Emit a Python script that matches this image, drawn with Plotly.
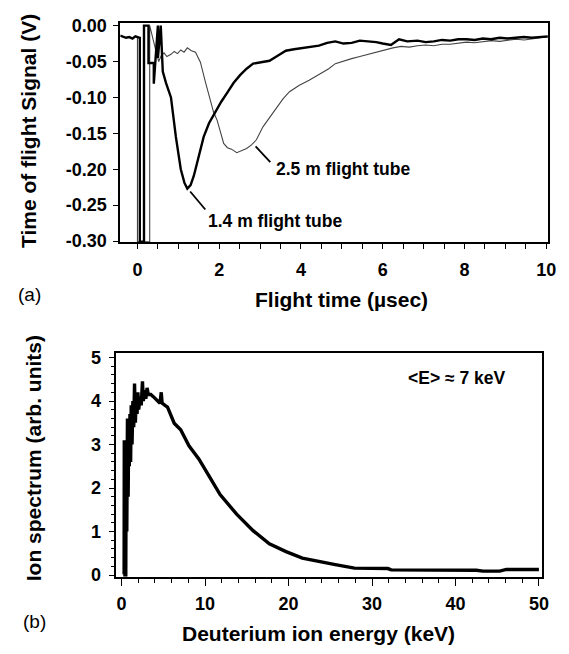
import plotly.graph_objects as go

# ---------------- Panel (a): time-of-flight signals ----------------
t_14 = [-0.42, -0.35, -0.28, -0.2, -0.12, -0.05, 0.0, 0.03, 0.058, 0.058, 0.16, 0.16, 0.27, 0.27, 0.40, 0.40,
        0.50, 0.50, 0.57, 0.62, 0.70, 0.82, 0.94, 1.06, 1.15, 1.22, 1.30, 1.38, 1.50, 1.62, 1.75, 1.91,
        2.05, 2.19, 2.35, 2.51, 2.67, 2.83, 3.03, 3.23, 3.43, 3.63, 3.83, 4.04, 4.24, 4.44, 4.64, 4.84,
        5.04, 5.24, 5.44, 5.64, 5.84, 6.0, 6.2, 6.4, 6.6, 6.85, 7.05, 7.25, 7.45, 7.65, 7.85, 8.05,
        8.25, 8.45, 8.65, 8.86, 9.05, 9.25, 9.45, 9.65, 9.85, 10.04]
v_14 = [-0.014, -0.015, -0.017, -0.016, -0.018, -0.015, -0.016, -0.017, -0.017, -0.301, -0.301, 0.0, 0.0, -0.052,
        -0.052, -0.081, 0.0, -0.045, 0.0, -0.064, -0.080, -0.100, -0.155, -0.200, -0.219, -0.227, -0.222,
        -0.209, -0.183, -0.155, -0.136, -0.119, -0.106, -0.094, -0.080, -0.069, -0.060, -0.053, -0.051,
        -0.049, -0.042, -0.035, -0.033, -0.031, -0.030, -0.028, -0.024, -0.022, -0.025, -0.024, -0.021,
        -0.022, -0.023, -0.025, -0.027, -0.019, -0.022, -0.021, -0.023, -0.022, -0.020, -0.021, -0.019,
        -0.019, -0.020, -0.018, -0.019, -0.017, -0.018, -0.017, -0.016, -0.017, -0.016, -0.015]

t_25 = [0.0, 0.0, 0.30, 0.30, 0.45, 0.52, 0.58, 0.65, 0.72, 0.82, 0.90, 0.98, 1.06, 1.14, 1.22, 1.32,
        1.42, 1.54, 1.66, 1.78, 1.86, 1.95, 2.03, 2.11, 2.20, 2.30, 2.43, 2.55, 2.67, 2.79, 2.91, 3.07,
        3.23, 3.40, 3.56, 3.72, 3.96, 4.20, 4.36, 4.52, 4.68, 4.84, 5.04, 5.24, 5.44, 5.64, 5.84, 6.05,
        6.25, 6.45, 6.65, 6.85, 7.05, 7.25, 7.45, 7.65, 7.85, 8.05, 8.25, 8.46, 8.66, 8.86, 9.06, 9.26,
        9.46, 9.66, 9.86, 10.04]
v_25 = [-0.016, -0.301, -0.301, 0.0, -0.035, -0.050, -0.042, -0.038, -0.043, -0.040, -0.036, -0.039, -0.034,
        -0.037, -0.031, -0.035, -0.037, -0.051, -0.078, -0.105, -0.120, -0.132, -0.148, -0.164, -0.170,
        -0.172, -0.177, -0.174, -0.171, -0.166, -0.159, -0.141, -0.128, -0.114, -0.102, -0.092, -0.083,
        -0.076, -0.071, -0.065, -0.060, -0.053, -0.049, -0.046, -0.043, -0.040, -0.037, -0.033, -0.031,
        -0.029, -0.030, -0.028, -0.027, -0.028, -0.026, -0.026, -0.024, -0.023, -0.024, -0.022, -0.021,
        -0.022, -0.020, -0.019, -0.020, -0.018, -0.017, -0.016]

a_ytick_vals = [0.0, -0.05, -0.10, -0.15, -0.20, -0.25, -0.30]
a_ytick_text = ["0.00", "-0.05", "-0.10", "-0.15", "-0.20", "-0.25", "-0.30"]

# ---------------- Panel (b): deuterium ion spectrum ----------------
e_keV = [0.30, 0.32, 0.40, 0.50, 0.55, 0.62, 0.70, 0.78, 0.85, 0.92, 1.00, 1.08, 1.15, 1.25, 1.35, 1.45,
         1.55, 1.65, 1.75, 1.85, 1.95, 2.05, 2.20, 2.35, 2.50, 2.60, 2.75, 2.90, 3.05, 3.20, 3.50, 3.80,
         4.10, 4.40, 4.60, 4.75, 4.85, 5.20, 5.50, 6.30, 7.08, 8.07, 9.25, 10.43, 11.8, 13.78, 15.75,
         17.7, 19.7, 21.65, 23.6, 25.6, 27.9, 29.5, 31.9, 32.3, 35.0, 38.0, 42.5, 43.3, 45.3, 46.1, 48.0, 50.0]
spec = [0.02, 3.10, 0.00, 0.00, 3.10, 1.00, 3.60, 1.80, 3.30, 2.50, 3.70, 2.60, 3.90, 3.00, 4.00, 3.40,
        4.40, 3.50, 4.10, 3.70, 4.20, 3.80, 4.10, 3.90, 4.45, 4.00, 4.25, 4.05, 4.30, 4.15, 4.15, 4.10,
        4.05, 4.00, 3.95, 4.20, 3.95, 3.90, 3.86, 3.49, 3.34, 2.97, 2.67, 2.29, 1.85, 1.40, 1.02,
        0.72, 0.54, 0.39, 0.31, 0.24, 0.16, 0.15, 0.15, 0.12, 0.12, 0.12, 0.11, 0.09, 0.09, 0.13, 0.13, 0.13]

FONT = "Liberation Sans, Arial, sans-serif"

fig = go.Figure()
fig.add_trace(go.Scatter(x=t_25, y=v_25, mode="lines", line=dict(color="#444444", width=1.1),
                         xaxis="x", yaxis="y", showlegend=False))
fig.add_trace(go.Scatter(x=t_14, y=v_14, mode="lines", line=dict(color="black", width=2.4),
                         xaxis="x", yaxis="y", showlegend=False))
fig.add_trace(go.Scatter(x=e_keV, y=spec, mode="lines", line=dict(color="black", width=3.4),
                         xaxis="x2", yaxis="y2", showlegend=False))

axis_common = dict(showline=True, linecolor="black", linewidth=1.6, mirror=True, ticks="outside",
                   tickcolor="black", tickwidth=1.4, showgrid=False, zeroline=False,
                   tickfont=dict(family=FONT, size=18, color="black", weight="bold"))

fig.update_layout(
    width=569, height=654, margin=dict(l=0, r=0, t=0, b=0),
    paper_bgcolor="white", plot_bgcolor="white",
    xaxis=dict(domain=[0.2144, 0.9766], range=[-0.42, 10.04], anchor="y", dtick=2, tick0=0, ticklen=5,
               minor=dict(dtick=0.5, ticklen=5, ticks="outside", tickcolor="black", tickwidth=1.2),
               ticklabelstandoff=5, **axis_common),
    yaxis=dict(domain=[0.6315, 0.9755], range=[-0.3014, 0.0041], anchor="x", tickmode="array",
               tickvals=a_ytick_vals, ticktext=a_ytick_text, ticklen=5, ticklabelstandoff=3, **axis_common),
    xaxis2=dict(domain=[0.2074, 0.9666], range=[-0.63, 50.4], anchor="y2", dtick=10, tick0=0, ticklen=7,
                minor=dict(dtick=2, ticklen=4, ticks="outside", tickcolor="black", tickwidth=1.2),
                ticklabelstandoff=3, **axis_common),
    yaxis2=dict(domain=[0.1070, 0.4572], range=[-0.038, 5.096], anchor="x2", dtick=1, tick0=0, ticklen=6,
                minor=dict(dtick=0.2, ticklen=4, ticks="outside", tickcolor="black", tickwidth=1.2),
                ticklabelstandoff=4, **axis_common),
)

bold = dict(family=FONT, size=21, color="black", weight="bold")
ann = [
    dict(text="Time of flight Signal (V)", x=29 / 569, y=1 - 127.5 / 654, xref="paper", yref="paper",
         textangle=-90, showarrow=False, font=bold, xanchor="center", yanchor="middle"),
    dict(text="Flight time (µsec)", x=346.7 / 569, y=1 - 300 / 654, xref="paper", yref="paper",
         showarrow=False, font=bold, xanchor="center", yanchor="middle"),
    dict(text="Ion spectrum (arb. units)", x=33.5 / 569, y=1 - 462.5 / 654, xref="paper", yref="paper",
         textangle=-90, showarrow=False, font=bold, xanchor="center", yanchor="middle"),
    dict(text="Deuterium ion energy (keV)", x=322.7 / 569, y=1 - 641.7 / 654, xref="paper", yref="paper",
         showarrow=False, font=bold, xanchor="center", yanchor="middle"),
    dict(text="(a)", x=30 / 569, y=1 - 295 / 654, xref="paper", yref="paper", showarrow=False,
         font=dict(family=FONT, size=19, color="black"), xanchor="center", yanchor="middle"),
    dict(text="(b)", x=35 / 569, y=1 - 630 / 654, xref="paper", yref="paper", showarrow=False,
         font=dict(family=FONT, size=19, color="black"), xanchor="center", yanchor="middle"),
    dict(text="2.5 m flight tube", x=3.34, y=-0.199, xref="x", yref="y", showarrow=False,
         font=dict(family=FONT, size=17.5, color="black", weight="bold"), xanchor="left", yanchor="middle"),
    dict(text="1.4 m flight tube", x=1.68, y=-0.272, xref="x", yref="y", showarrow=False,
         font=dict(family=FONT, size=17.5, color="black", weight="bold"), xanchor="left", yanchor="middle"),
    dict(text="<E> ≈ 7 keV", x=40.2, y=4.52, xref="x2", yref="y2", showarrow=False,
         font=dict(family=FONT, size=17.5, color="black", weight="bold"), xanchor="center", yanchor="middle"),
]
fig.update_layout(annotations=ann)

fig.add_shape(type="line", x0=2.89, y0=-0.168, x1=3.25, y1=-0.190, xref="x", yref="y",
              line=dict(color="black", width=1.8))
fig.add_shape(type="line", x0=1.29, y0=-0.231, x1=1.66, y1=-0.256, xref="x", yref="y",
              line=dict(color="black", width=1.8))

fig.write_html("out.html", config={"displayModeBar": False})
